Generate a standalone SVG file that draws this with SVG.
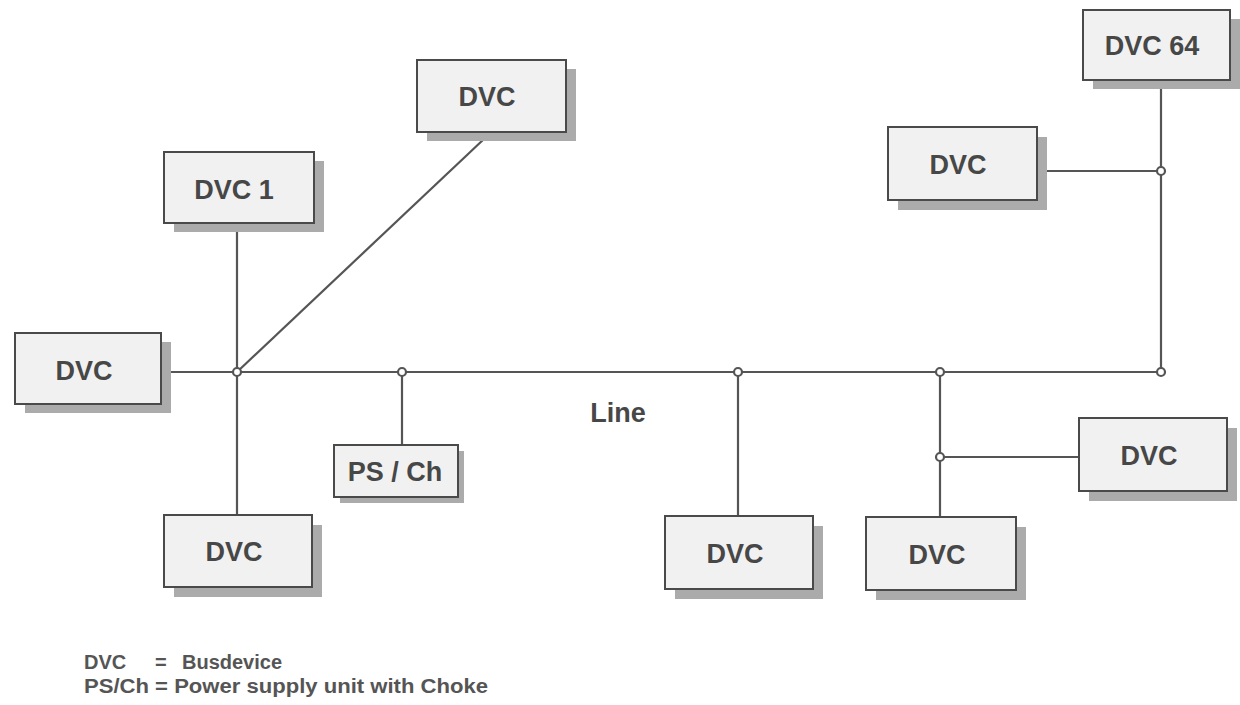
<svg xmlns="http://www.w3.org/2000/svg" width="1240" height="705" viewBox="0 0 1240 705">
<style>
.box{fill:#f1f1f1;stroke:#4a4a4a;stroke-width:2}
.sh{fill:#ababab}
.lbl{font-family:"Liberation Sans",Arial,sans-serif;font-weight:bold;font-size:27px;fill:#474747;text-anchor:middle}
.wire{stroke:#555;stroke-width:2.2;fill:none}
.jn{fill:#fff;stroke:#555;stroke-width:2.2}
.leg{font-family:"Liberation Sans",Arial,sans-serif;font-weight:bold;font-size:20px;fill:#555}
</style>
<rect width="1240" height="705" fill="#fff"/>
<g id="connectors">
<line class="wire" x1="161" y1="372" x2="1161" y2="372"/>
<line class="wire" x1="237" y1="223" x2="237" y2="515"/>
<line class="wire" x1="237" y1="372" x2="484" y2="139"/>
<line class="wire" x1="402" y1="372" x2="402" y2="445"/>
<line class="wire" x1="738" y1="372" x2="738" y2="516"/>
<line class="wire" x1="940" y1="372" x2="940" y2="517"/>
<line class="wire" x1="940" y1="457" x2="1079" y2="457"/>
<line class="wire" x1="1161" y1="80" x2="1161" y2="372"/>
<line class="wire" x1="1037" y1="171" x2="1161" y2="171"/>
<circle class="jn" cx="237" cy="372" r="4"/>
<circle class="jn" cx="402" cy="372" r="4"/>
<circle class="jn" cx="738" cy="372" r="4"/>
<circle class="jn" cx="940" cy="372" r="4"/>
<circle class="jn" cx="1161" cy="372" r="4"/>
<circle class="jn" cx="1161" cy="171" r="4"/>
<circle class="jn" cx="940" cy="457" r="4"/>
</g>
<g id="n1"><rect class="sh" x="25" y="342" width="146" height="71"/><rect class="box" x="15" y="333" width="146" height="71"/><text class="lbl" x="84" y="380">DVC</text></g>
<g id="n2"><rect class="sh" x="174" y="161" width="150" height="71"/><rect class="box" x="164" y="152" width="150" height="71"/><text class="lbl" x="234" y="199">DVC 1</text></g>
<g id="n3"><rect class="sh" x="427" y="69" width="149" height="72"/><rect class="box" x="417" y="60" width="149" height="72"/><text class="lbl" x="487" y="106">DVC</text></g>
<g id="n4"><rect class="sh" x="1093" y="19" width="147" height="70"/><rect class="box" x="1083" y="10" width="147" height="70"/><text class="lbl" x="1152" y="55">DVC 64</text></g>
<g id="n5"><rect class="sh" x="898" y="137" width="149" height="73"/><rect class="box" x="888" y="127" width="149" height="73"/><text class="lbl" x="958" y="174">DVC</text></g>
<g id="n6"><rect class="sh" x="340" y="451" width="124" height="52"/><rect class="box" x="334" y="445" width="124" height="52"/><text class="lbl" x="395" y="481">PS / Ch</text></g>
<g id="n7"><rect class="sh" x="174" y="525" width="148" height="72"/><rect class="box" x="164" y="515" width="148" height="72"/><text class="lbl" x="234" y="561">DVC</text></g>
<g id="n8"><rect class="sh" x="675" y="526" width="148" height="73"/><rect class="box" x="665" y="516" width="148" height="73"/><text class="lbl" x="735" y="563">DVC</text></g>
<g id="n9"><rect class="sh" x="876" y="527" width="150" height="73"/><rect class="box" x="866" y="517" width="150" height="73"/><text class="lbl" x="937" y="564">DVC</text></g>
<g id="n10"><rect class="sh" x="1089" y="428" width="148" height="73"/><rect class="box" x="1079" y="418" width="148" height="73"/><text class="lbl" x="1149" y="465">DVC</text></g>
<text class="lbl" x="618" y="422">Line</text>
<g id="legend">
<text class="leg" y="669"><tspan x="84">DVC</tspan><tspan x="155">=</tspan><tspan x="182">Busdevice</tspan></text>
<text class="leg" x="84" y="693" textLength="404" lengthAdjust="spacingAndGlyphs">PS/Ch = Power supply unit with Choke</text>
</g>
</svg>
